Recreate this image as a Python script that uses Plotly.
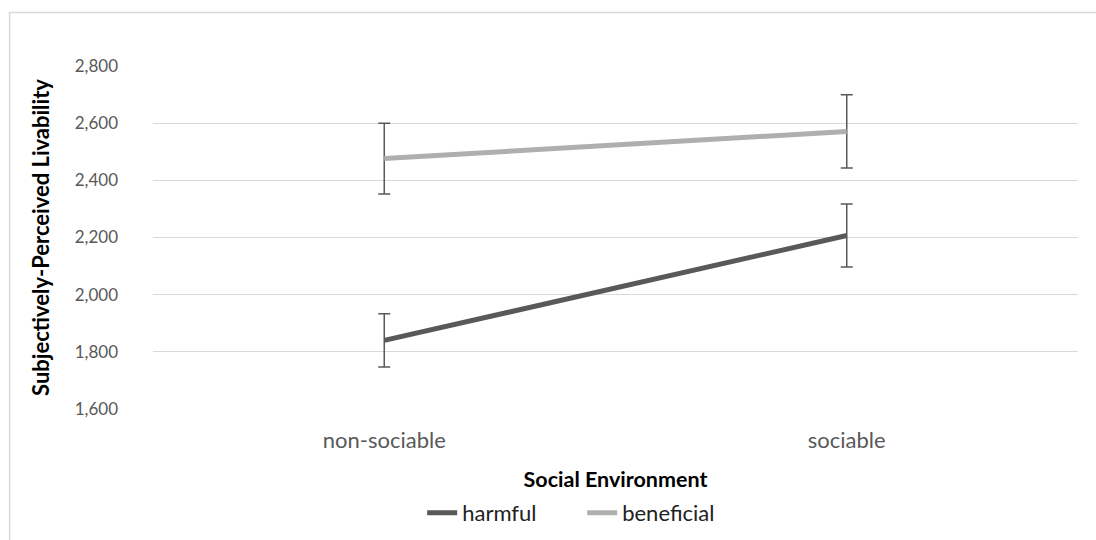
import plotly.graph_objects as go

# Social environment categories and livability means with error margins
environments = ["non-sociable", "sociable"]
harmful_mean = [1840, 2207]
harmful_err = [93, 110]
beneficial_mean = [2476, 2571]
beneficial_err = [124, 128]

y_ticks = [1600, 1800, 2000, 2200, 2400, 2600, 2800]
y_tick_text = ["1,600", "1,800", "2,000", "2,200", "2,400", "2,600", "2,800"]

FONT = "Lato"
ERR_COLOR = "#595959"

fig = go.Figure()

fig.add_trace(go.Scatter(
    x=environments, y=harmful_mean, name="harmful", mode="lines",
    line=dict(color="#595959", width=5),
    error_y=dict(type="data", array=harmful_err, visible=True,
                 color=ERR_COLOR, thickness=1.5, width=6),
))
fig.add_trace(go.Scatter(
    x=environments, y=beneficial_mean, name="beneficial", mode="lines",
    line=dict(color="#afafaf", width=5),
    error_y=dict(type="data", array=beneficial_err, visible=True,
                 color=ERR_COLOR, thickness=1.5, width=6),
))

# Outer chart frame
fig.add_shape(type="rect", xref="paper", yref="paper",
              x0=-0.155, x1=1.2, y0=-1.0, y1=1.156,
              line=dict(color="#d9d9d9", width=1.5), fillcolor="rgba(0,0,0,0)",
              layer="below")

fig.update_layout(
    width=1096, height=540,
    margin=dict(l=153, r=18, t=66, b=131, autoexpand=False),
    paper_bgcolor="white", plot_bgcolor="white",
    font=dict(family=FONT, size=17, color="#595959"),
    showlegend=True,
    legend=dict(orientation="h", xref="paper", x=0.291, xanchor="left",
                yref="container", y=0.05, yanchor="middle",
                font=dict(family=FONT, size=22, color="#222222"),
                entrywidth=115, tracegroupgap=0),
    xaxis=dict(
        type="category", range=[-0.5, 1.5], automargin=False,
        showgrid=False, zeroline=False, showline=False,
        tickfont=dict(family=FONT, size=22, color="#595959"),
        ticks="", ticklabelstandoff=16,
        title=dict(text="<b>Social Environment</b>", standoff=19,
                   font=dict(family=FONT, size=21.5, color="#000000")),
    ),
    yaxis=dict(
        range=[1600, 2800], tickvals=y_ticks, ticktext=y_tick_text, automargin=False,
        showgrid=True, gridcolor="#d9d9d9", gridwidth=1,
        zeroline=False, showline=False, ticks="", ticklabelstandoff=34,
        tickfont=dict(family=FONT, size=17, color="#595959"),
        title=dict(text="<b>Subjectively-Perceived Livability</b>", standoff=18,
                   font=dict(family=FONT, size=22, color="#000000")),
    ),
)

fig.write_html("out.html")
